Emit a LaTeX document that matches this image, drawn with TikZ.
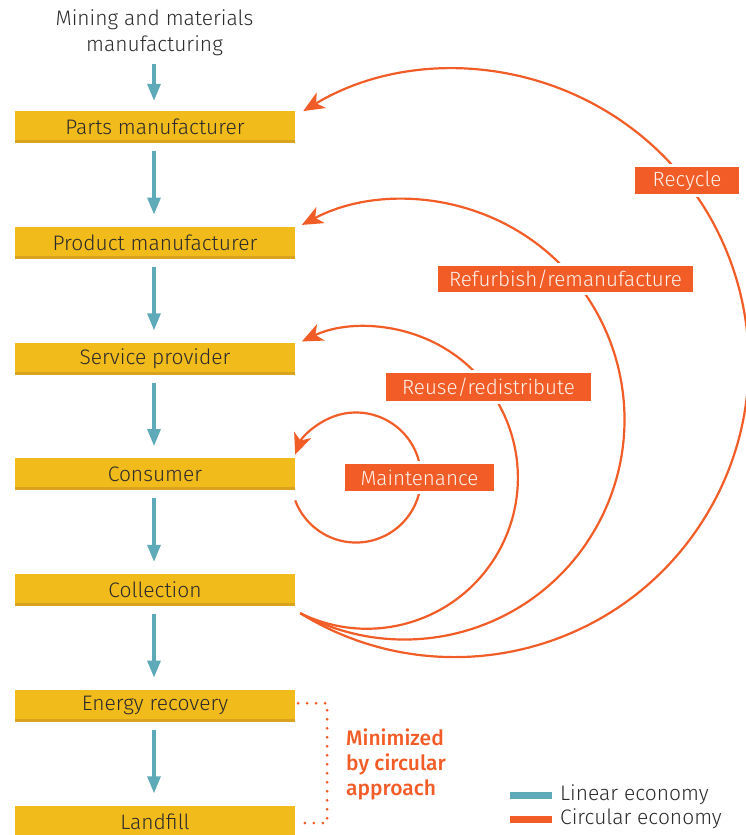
\documentclass[tikz,border=0pt]{standalone}
\usepackage{fontspec}
\setmainfont{Fira Sans Light}[BoldFont={Fira Sans Medium}]
\usetikzlibrary{arrows.meta}
\definecolor{boxyellow}{HTML}{F2BB1C}
\definecolor{boxdark}{HTML}{D9A21F}
\definecolor{linteal}{HTML}{5FAAB9}
\definecolor{circorange}{HTML}{F25C27}
\definecolor{darktext}{HTML}{2B2B2B}
\definecolor{labeltext}{HTML}{FFF1EA}
\tikzset{
  stagebox/.style={rectangle, minimum width=280pt, minimum height=32pt, inner sep=0pt,
    fill=boxyellow, text=darktext, font=\fontsize{21}{25}\selectfont,
    path picture={\fill[boxdark] (path picture bounding box.south west) rectangle ([yshift=3pt]path picture bounding box.south east);}},
  linarrow/.style={draw=linteal, line width=3.2pt, -{Triangle[length=17pt,width=13pt]}},
  circarrow/.style={draw=circorange, line width=2.2pt, -{Stealth[length=21pt,width=18pt,inset=6pt]}},
  circlabel/.style={rectangle, fill=circorange, draw=white, line width=3pt, inner sep=0pt,
    text=labeltext, font=\fontsize{20.6}{24}\selectfont},
  dotline/.style={draw=circorange, line width=3pt, line cap=round, dash pattern=on 0pt off 9pt},
  legendtext/.style={anchor=west, text=darktext, font=\fontsize{21}{25}\selectfont, inner sep=0pt}
}
\begin{document}
\begin{tikzpicture}[x=1pt,y=1pt]
\useasboundingbox (0,0) rectangle (745,-835);
% top source text
\node[align=center, text=darktext, font=\fontsize{21}{26}\selectfont] (src) at (154.5,-33) {Mining and materials\\manufacturing};
% stage boxes
\node[stagebox] (parts) at (155,-127) {Parts manufacturer};
\node[stagebox] (product) at (155,-242.75) {Product manufacturer};
\node[stagebox] (service) at (155,-358.5) {Service provider};
\node[stagebox] (consumer) at (155,-474.25) {Consumer};
\node[stagebox] (collection) at (155,-590) {Collection};
\node[stagebox] (energy) at (155,-705.75) {Energy recovery};
\node[stagebox] (landfill) at (155,-821.5) {Landfill};
% linear arrows
\draw[linarrow] (154,-64) -- ([xshift=-1pt,yshift=10pt]parts.north);
\draw[linarrow] ([xshift=-1pt,yshift=-8pt]parts.south) -- ([xshift=-1pt,yshift=12pt]product.north);
\draw[linarrow] ([xshift=-1pt,yshift=-8pt]product.south) -- ([xshift=-1pt,yshift=12pt]service.north);
\draw[linarrow] ([xshift=-1pt,yshift=-8pt]service.south) -- ([xshift=-1pt,yshift=12pt]consumer.north);
\draw[linarrow] ([xshift=-1pt,yshift=-8pt]consumer.south) -- ([xshift=-1pt,yshift=12pt]collection.north);
\draw[linarrow] ([xshift=-1pt,yshift=-8pt]collection.south) -- ([xshift=-1pt,yshift=12pt]energy.north);
\draw[linarrow] ([xshift=-1pt,yshift=-8pt]energy.south) -- ([xshift=-1pt,yshift=12pt]landfill.north);
% circular loops
\coordinate (mstart) at ([yshift=-10pt]consumer.south east);
\coordinate (cstart) at ([shift={(5pt,-7pt)}]collection.south east);
\draw[circarrow] (mstart) arc[start angle=200.66, end angle=519.34, radius=65pt];
\draw[circarrow] (cstart) arc[start angle=243.8, end angle=475.5, radius=151pt];
\draw[circarrow] (cstart) arc[start angle=241.7, end angle=477.8, radius=220pt];
\draw[circarrow] (cstart) arc[start angle=238.3, end angle=481, radius=294pt];
% labels
\node[circlabel, minimum width=107pt, minimum height=30pt] (recycle) at (687,-180.5) {Recycle};
\node[circlabel, minimum width=258pt, minimum height=29pt] (refurb) at (565.5,-279) {Refurbish/remanufacture};
\node[circlabel, minimum width=208pt, minimum height=31pt] (reuse) at (488.5,-387) {Reuse/redistribute};
\node[circlabel, minimum width=152pt, minimum height=30pt] (maint) at (419.5,-477.5) {Maintenance};
% dotted bracket
\coordinate (dtop) at ([shift={(3pt,2.5pt)}]energy.east);
\coordinate (dbot) at ([shift={(3pt,-1.5pt)}]landfill.east);
\draw[dotline] (dtop) -- ++(29,0) |- (dbot);
\node[anchor=north west, align=left, text=circorange, inner sep=0pt,
  font=\fontsize{21}{25}\bfseries\selectfont] (minim) at (346,-729) {Minimized\\by circular\\approach};
% legend
\coordinate (la) at (510,-795);
\coordinate (lb) at (552,-795);
\coordinate (ca) at (510,-819);
\coordinate (cb) at (552,-819);
\draw[draw=linteal, line width=7pt] (la) -- (lb);
\draw[draw=circorange, line width=7pt] (ca) -- (cb);
\node[legendtext] (ltext) at (560,-795) {Linear economy};
\node[legendtext] (ctext) at (560,-819) {Circular economy};
\end{tikzpicture}
\end{document}
